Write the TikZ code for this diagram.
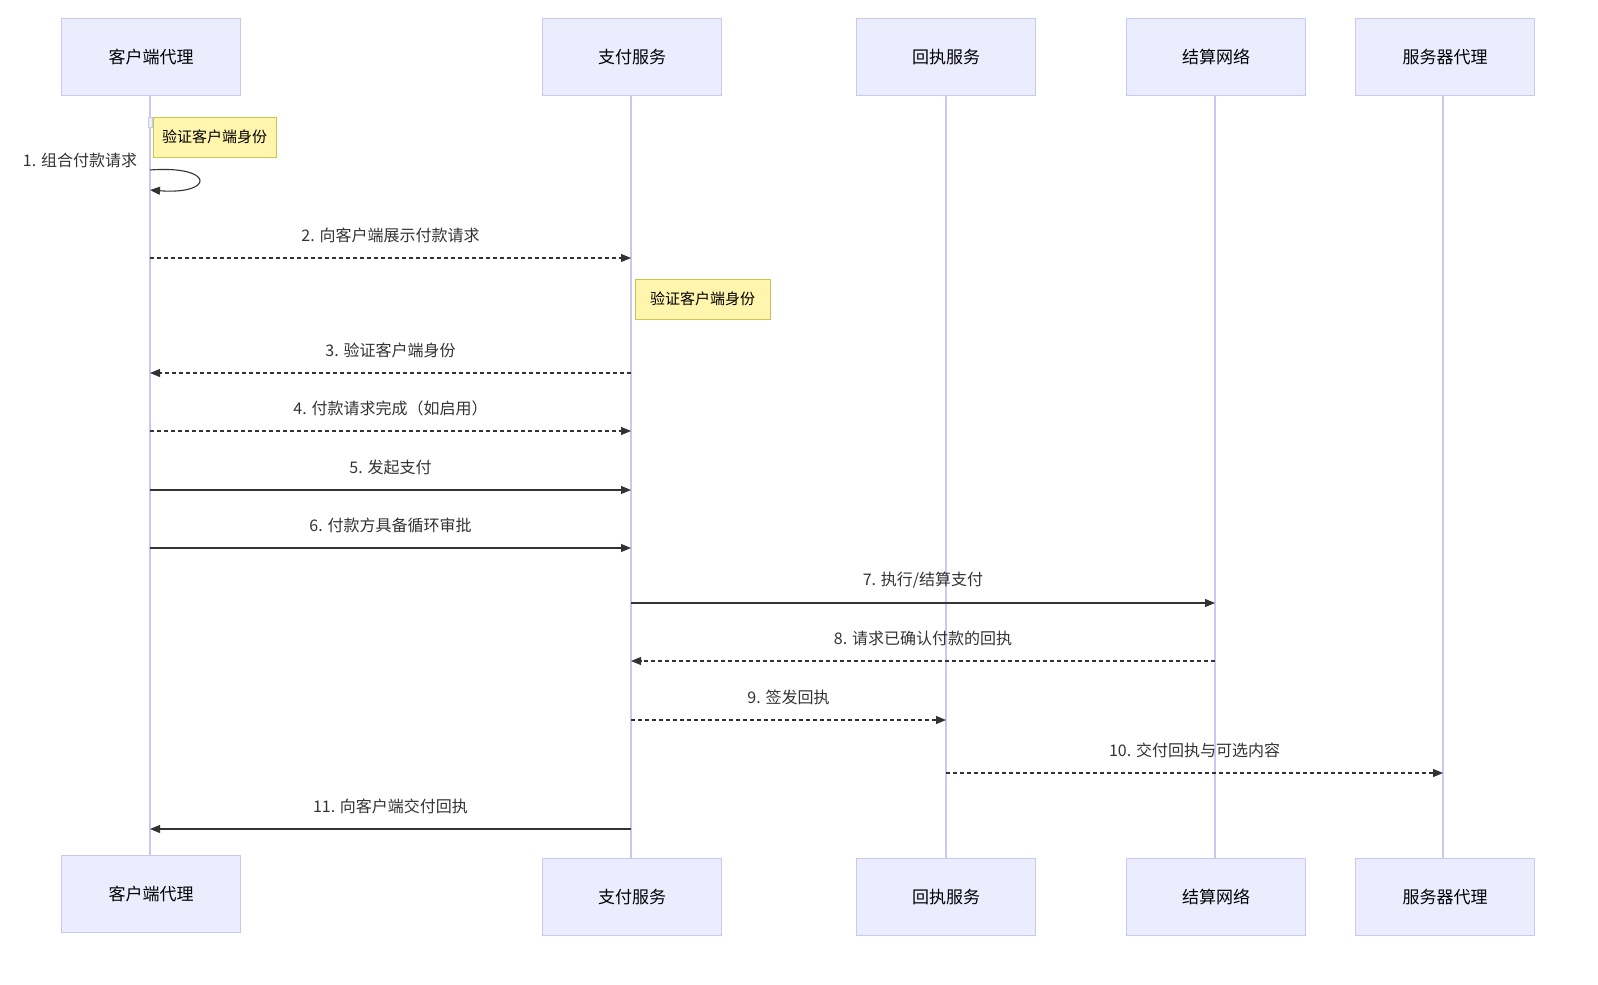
\documentclass[tikz,border=0pt]{standalone}
\usepackage{fontspec}
\setmainfont{Noto Sans CJK SC}
\usetikzlibrary{arrows.meta,calc}
\definecolor{actfill}{HTML}{ECECFF}
\definecolor{actline}{HTML}{C8C8F0}
\definecolor{notefill}{HTML}{FFF5AD}
\definecolor{noteline}{HTML}{C8C850}
\tikzset{
  actor/.style={draw=actline,fill=actfill,minimum width=89.5pt,minimum height=38.5pt,inner sep=0pt,font=\fontsize{8.5}{10}\selectfont},
  note/.style={draw=noteline,fill=notefill,inner sep=0pt,font=\fontsize{7.5}{9}\selectfont},
  msg/.style={-{Triangle[length=5pt,width=4pt]},line width=0.55pt,black!80},
  reply/.style={msg,dashed,dash pattern=on 2pt off 1.5pt},
  lbl/.style={font=\fontsize{8}{10}\selectfont,text=black!80},
  life/.style={actline,line width=0.8pt}
}
\begin{document}
\begin{tikzpicture}[x=0.5pt,y=-0.5pt]
\useasboundingbox (0,0) rectangle (1598,984);
% lifelines
\foreach \x in {150,631,946,1215,1443}
  \draw[life] (\x,95) -- (\x,858);
% actors, top
\node[actor] (cliT) at (151,57) {客户端代理};
\node[actor] (payT) at (632,57) {支付服务};
\node[actor] (recT) at (946,57) {回执服务};
\node[actor] (setT) at (1216,57) {结算网络};
\node[actor] (srvT) at (1445,57) {服务器代理};
% actors, bottom
\node[actor] (cliB) at (151,894) {客户端代理};
\node[actor] (payB) at (632,897) {支付服务};
\node[actor] (recB) at (946,897) {回执服务};
\node[actor] (setB) at (1216,897) {结算网络};
\node[actor] (srvB) at (1445,897) {服务器代理};
% notes
\node[note,minimum width=61.5pt,minimum height=20pt] (note1) at (214.5,137) {验证客户端身份};
\node[note,minimum width=67.5pt,minimum height=20pt] (note2) at (702.5,299) {验证客户端身份};
\draw[actline,fill=actfill] (148,117) rectangle (152,127);
% self message
\node[lbl] (m1) at (80,160) {1. 组合付款请求};
\coordinate (s1) at (150,170);
\coordinate (s2) at (150,190);
\draw[msg] (s1) .. controls (215,165) and (215,195) .. (s2);
% messages
\foreach \ya/\xa/\xb/\t/\sty in {
  258/150/631/{2. 向客户端展示付款请求}/reply,
  373/631/150/{3. 验证客户端身份}/reply,
  431/150/631/{4. 付款请求完成（如启用）}/reply,
  490/150/631/{5. 发起支付}/msg,
  548/150/631/{6. 付款方具备循环审批}/msg,
  603/631/1215/{7. 执行/结算支付}/msg,
  661/1215/631/{8. 请求已确认付款的回执}/reply,
  720/631/946/{9. 签发回执}/reply,
  773/946/1443/{10. 交付回执与可选内容}/reply,
  829/631/150/{11. 向客户端交付回执}/msg}{
  \coordinate (a) at (\xa,\ya);
  \coordinate (b) at (\xb,\ya);
  \draw[\sty] (a) -- (b);
  \node[lbl,anchor=south] at ($(a)!0.5!(b)+(0,-8)$) {\t};
}
\end{tikzpicture}
\end{document}
